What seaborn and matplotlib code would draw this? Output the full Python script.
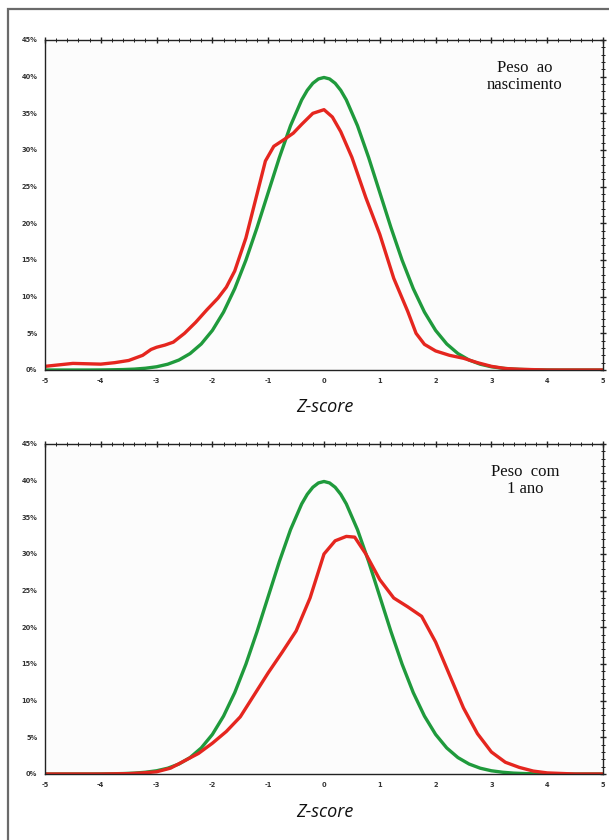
"""Z-score distributions: birth weight and weight at 1 year vs. reference normal curve."""

import matplotlib
matplotlib.use("Agg")
import matplotlib.pyplot as plt
import matplotlib.ticker as mticker
import pandas as pd
import seaborn as sns

# reference curve (green)
z_ref = [-5.0, -4.8, -4.6, -4.4, -4.2, -4.0, -3.8, -3.6, -3.4, -3.2, -3.0, -2.8, -2.6, -2.4,
         -2.2, -2.0, -1.8, -1.6, -1.4, -1.2, -1.0, -0.8, -0.6, -0.4, -0.3, -0.2, -0.1, 0.0,
         0.1, 0.2, 0.3, 0.4, 0.6, 0.8, 1.0, 1.2, 1.4, 1.6, 1.8, 2.0, 2.2, 2.4, 2.6, 2.8,
         3.0, 3.2, 3.4, 3.6, 3.8, 4.0, 4.2, 4.4, 4.6, 4.8, 5.0]
ref_pct = [0.0, 0.0, 0.0, 0.0, 0.0, 0.01, 0.03, 0.06, 0.12, 0.24, 0.44, 0.79, 1.36, 2.24,
           3.55, 5.40, 7.90, 11.09, 14.97, 19.42, 24.20, 28.97, 33.32, 36.83, 38.14, 39.10,
           39.69, 39.89, 39.69, 39.10, 38.14, 36.83, 33.32, 28.97, 24.20, 19.42, 14.97,
           11.09, 7.90, 5.40, 3.55, 2.24, 1.36, 0.79, 0.44, 0.24, 0.12, 0.06, 0.03, 0.01,
           0.0, 0.0, 0.0, 0.0, 0.0]

# observed: birth weight (red, top panel)
z_birth = [-5.0, -4.75, -4.5, -4.25, -4.0, -3.75, -3.5, -3.25, -3.1, -3.0, -2.85, -2.7, -2.5,
           -2.3, -2.1, -1.9, -1.75, -1.6, -1.4, -1.2, -1.05, -0.9, -0.7, -0.55, -0.4, -0.2,
           0.0, 0.15, 0.3, 0.5, 0.75, 1.0, 1.25, 1.5, 1.65, 1.8, 2.0, 2.25, 2.5, 2.75, 3.0,
           3.25, 3.5, 4.0, 4.5, 5.0]
birth_pct = [0.5, 0.7, 0.9, 0.85, 0.8, 1.0, 1.3, 2.0, 2.8, 3.1, 3.4, 3.8, 5.0, 6.5, 8.2, 9.8,
             11.3, 13.5, 18.0, 24.0, 28.5, 30.5, 31.5, 32.3, 33.5, 35.0, 35.5, 34.5, 32.5,
             29.0, 23.5, 18.5, 12.5, 8.0, 5.0, 3.5, 2.6, 2.0, 1.6, 1.0, 0.5, 0.2, 0.1, 0.0,
             0.0, 0.0]

# observed: weight at 1 year (red, bottom panel)
z_year = [-5.0, -4.5, -4.0, -3.5, -3.25, -3.0, -2.75, -2.5, -2.25, -2.0, -1.75, -1.5, -1.25,
          -1.0, -0.75, -0.5, -0.25, 0.0, 0.2, 0.4, 0.55, 0.75, 1.0, 1.25, 1.5, 1.75, 2.0,
          2.25, 2.5, 2.75, 3.0, 3.25, 3.5, 3.75, 4.0, 4.5, 5.0]
year_pct = [0.0, 0.0, 0.0, 0.05, 0.15, 0.3, 0.8, 1.8, 2.8, 4.2, 5.8, 7.8, 10.8, 13.8, 16.6,
            19.5, 24.0, 30.0, 31.8, 32.4, 32.3, 30.0, 26.5, 24.0, 22.8, 21.5, 18.0, 13.5, 9.0,
            5.5, 3.0, 1.6, 0.9, 0.4, 0.15, 0.0, 0.0]

panel_labels = ["Peso  ao\nnascimento", "Peso  com\n1 ano"]

GREEN = "#1f9a3c"
RED = "#e5261f"


def draw_panel(ax, z_obs, obs_pct, label):
    ref = pd.DataFrame({"z": z_ref, "pct": ref_pct})
    obs = pd.DataFrame({"z": z_obs, "pct": obs_pct})
    sns.lineplot(data=ref, x="z", y="pct", color=GREEN, linewidth=2.4, ax=ax)
    sns.lineplot(data=obs, x="z", y="pct", color=RED, linewidth=2.4, ax=ax)
    for line in ax.get_lines():
        line.set_solid_joinstyle("round")
        line.set_solid_capstyle("round")

    ax.set_xlim(-5, 5)
    ax.set_ylim(0, 45)
    ax.set_xlabel("")
    ax.set_ylabel("")
    ax.xaxis.set_major_locator(mticker.MultipleLocator(1))
    ax.xaxis.set_minor_locator(mticker.MultipleLocator(0.2))
    ax.yaxis.set_major_locator(mticker.MultipleLocator(5))
    ax.yaxis.set_minor_locator(mticker.MultipleLocator(1))
    ax.yaxis.set_major_formatter(mticker.FuncFormatter(lambda v, _: f"{v:.0f}%"))
    ax.xaxis.set_major_formatter(mticker.FuncFormatter(lambda v, _: f"{v:.0f}"))
    ax.tick_params(which="both", top=True, right=True, direction="inout",
                   color="#222222", labelsize=4.8, pad=3)
    ax.tick_params(which="major", length=5, width=1.0)
    ax.tick_params(which="minor", length=2.5, width=0.7)
    for lab in ax.get_xticklabels() + ax.get_yticklabels():
        lab.set_fontweight("bold")
        lab.set_color("#333333")
    for sp in ax.spines.values():
        sp.set_linewidth(1.0)
        sp.set_color("#222222")
    ax.set_facecolor("#fcfcfc")

    ax.text(3.6, 40.0, label, ha="center", va="center", fontsize=12,
            family="Liberation Serif", color="#111111", linespacing=1.1)


sns.set_style("white")

fig = plt.figure(figsize=(6.09, 8.40), dpi=100)
fig.patch.set_facecolor("white")

# outer frame of the figure box
fig.add_artist(plt.Rectangle((8 / 609, -0.01), 1.0, 1 - 9 / 840 + 0.01,
                             transform=fig.transFigure, fill=False,
                             edgecolor="#6a6a6a", linewidth=1.6))

ax_top = fig.add_axes([45 / 609, 1 - 370 / 840, 558 / 609, 330 / 840])
ax_bot = fig.add_axes([45 / 609, 1 - 774 / 840, 558 / 609, 330 / 840])

draw_panel(ax_top, z_birth, birth_pct, panel_labels[0])
draw_panel(ax_bot, z_year, year_pct, panel_labels[1])

for ypix in (407, 812):
    fig.text(325 / 609, 1 - ypix / 840, "Z-score", ha="center", va="center",
             fontsize=13, family="Open Sans", style="italic", color="#111111")

fig.savefig("out.png", dpi=100)
plt.close(fig)
